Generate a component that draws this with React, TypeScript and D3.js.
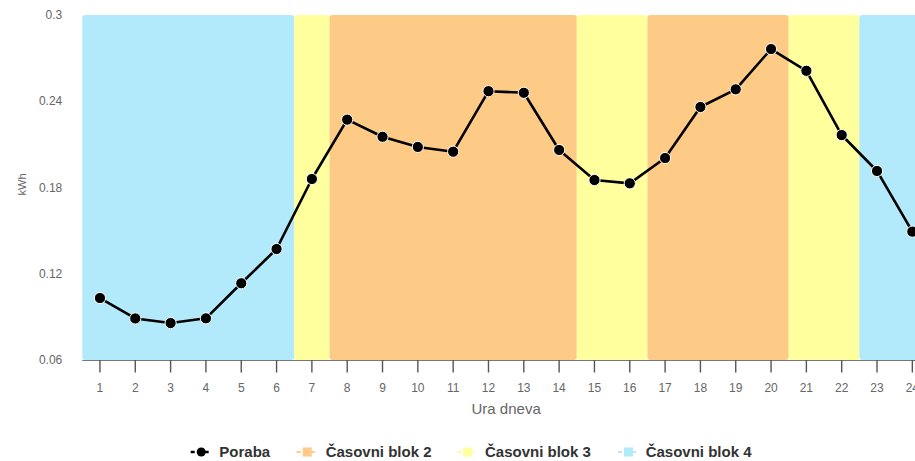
import React from "react";
import * as d3 from "d3";

const hours = d3.range(1, 25).map(String);
const poraba = [
  0.1031, 0.0889, 0.0857, 0.089, 0.1134, 0.1372, 0.1859, 0.2272, 0.2153, 0.2082, 0.2049, 0.247,
  0.2459, 0.2061, 0.1852, 0.1829, 0.2005, 0.236, 0.2483, 0.2763, 0.2612, 0.2165, 0.1915, 0.1493,
];
const blocks = [4, 4, 4, 4, 4, 4, 3, 2, 2, 2, 2, 2, 2, 2, 3, 3, 2, 2, 2, 2, 3, 3, 4, 4];
const yTicks = [0.06, 0.12, 0.18, 0.24, 0.3];
const legendItems = [
  { key: "poraba", label: "Poraba" },
  { key: 2, label: "Časovni blok 2" },
  { key: 3, label: "Časovni blok 3" },
  { key: 4, label: "Časovni blok 4" },
];
const blockColors: Record<number, string> = { 2: "#fdcb86", 3: "#ffff9e", 4: "#b2eafc" };
const legendColors: Record<number, string> = { 2: "#fdcb86", 3: "#ffff9e", 4: "#b2eafc" };

const W = 915, H = 461;
const left = 82.3, right = 930, top = 15, bottom = 360;
const font = "'Liberation Sans', Arial, sans-serif";

export default function App() {
  const x = d3.scaleBand<string>().domain(hours).range([left, right]).padding(0);
  const y = d3.scaleLinear().domain([0.06, 0.3]).range([bottom, top]);
  const cx = (h: string) => (x(h) as number) + x.bandwidth() / 2;

  // contiguous groups of blocks
  const groups: { b: number; start: number; end: number }[] = [];
  blocks.forEach((b, i) => {
    const g = groups[groups.length - 1];
    if (g && g.b === b) g.end = i;
    else groups.push({ b, start: i, end: i });
  });

  const line = d3
    .line<number>()
    .x((_, i) => cx(hours[i]))
    .y((d) => y(d));

  const legendX = [190.7, 296.7, 457, 618];
  const legendTextX = [219.3, 325.7, 485, 645.7];
  const ly = 452;

  return (
    <svg width={W} height={H} style={{ position: "absolute", left: 0, top: 0, display: "block" }}>
      <rect width={W} height={H} fill="#fff" />
      <g>
        {groups.map((g, i) => {
          const x0 = x(hours[g.start]) as number;
          const x1 = (x(hours[g.end]) as number) + x.bandwidth();
          return (
            <rect key={i} x={x0} y={y(0.3)} width={x1 - x0} height={y(0.06) - y(0.3)} rx={3} ry={3} fill={blockColors[g.b]} />
          );
        })}
      </g>
      {/* x axis */}
      <line x1={left} x2={right} y1={bottom + 0.5} y2={bottom + 0.5} stroke="#777" strokeWidth={1.2} />
      {hours.map((h) => (
        <g key={h}>
          <line x1={cx(h)} x2={cx(h)} y1={bottom} y2={bottom + 12.5} stroke="#555" strokeWidth={1.4} />
          <text x={cx(h)} y={391.5} textAnchor="middle" fontFamily={font} fontSize={12} fill="#666">
            {h}
          </text>
        </g>
      ))}
      <text x={(left + right) / 2} y={414.3} textAnchor="middle" fontFamily={font} fontSize={15} fill="#666">
        Ura dneva
      </text>
      {/* y axis */}
      {yTicks.map((t) => (
        <text key={t} x={62.3} y={y(t)} dy="0.35em" textAnchor="end" fontFamily={font} fontSize={12} fill="#666">
          {String(t)}
        </text>
      ))}
      <text transform={`translate(22,${(top + bottom) / 2 - 3}) rotate(-90)`} dy="0.35em" textAnchor="middle" fontFamily={font} fontSize={11} fill="#666">
        kWh
      </text>
      {/* series */}
      <path d={line(poraba) as string} fill="none" stroke="#000" strokeWidth={2.6} strokeLinejoin="round" />
      {poraba.map((v, i) => (
        <circle key={i} cx={cx(hours[i])} cy={y(v)} r={5.6} fill="#000" stroke="#fff" strokeWidth={1} />
      ))}
      {/* legend */}
      {legendItems.map((it, i) => {
        const mx = legendX[i];
        const isLine = it.key === "poraba";
        const col = isLine ? "#000" : legendColors[it.key as number];
        return (
          <g key={i}>
            {isLine ? (
              <>
                <line x1={mx} x2={mx + 21} y1={ly} y2={ly} stroke="#000" strokeWidth={2.4} strokeDasharray="4,3" />
                <circle cx={mx + 10.5} cy={ly} r={4.5} fill="#000" />
              </>
            ) : (
              <>
                <line x1={mx} x2={mx + 20} y1={ly} y2={ly} stroke={col} strokeWidth={2} strokeDasharray="4,3" />
                <rect x={mx + 6} y={ly - 4.5} width={9} height={9} fill={col} />
              </>
            )}
            <text x={legendTextX[i]} y={457.3} fontFamily={font} fontSize={15} fontWeight="bold" fill="#333">
              {it.label}
            </text>
          </g>
        );
      })}
    </svg>
  );
}
